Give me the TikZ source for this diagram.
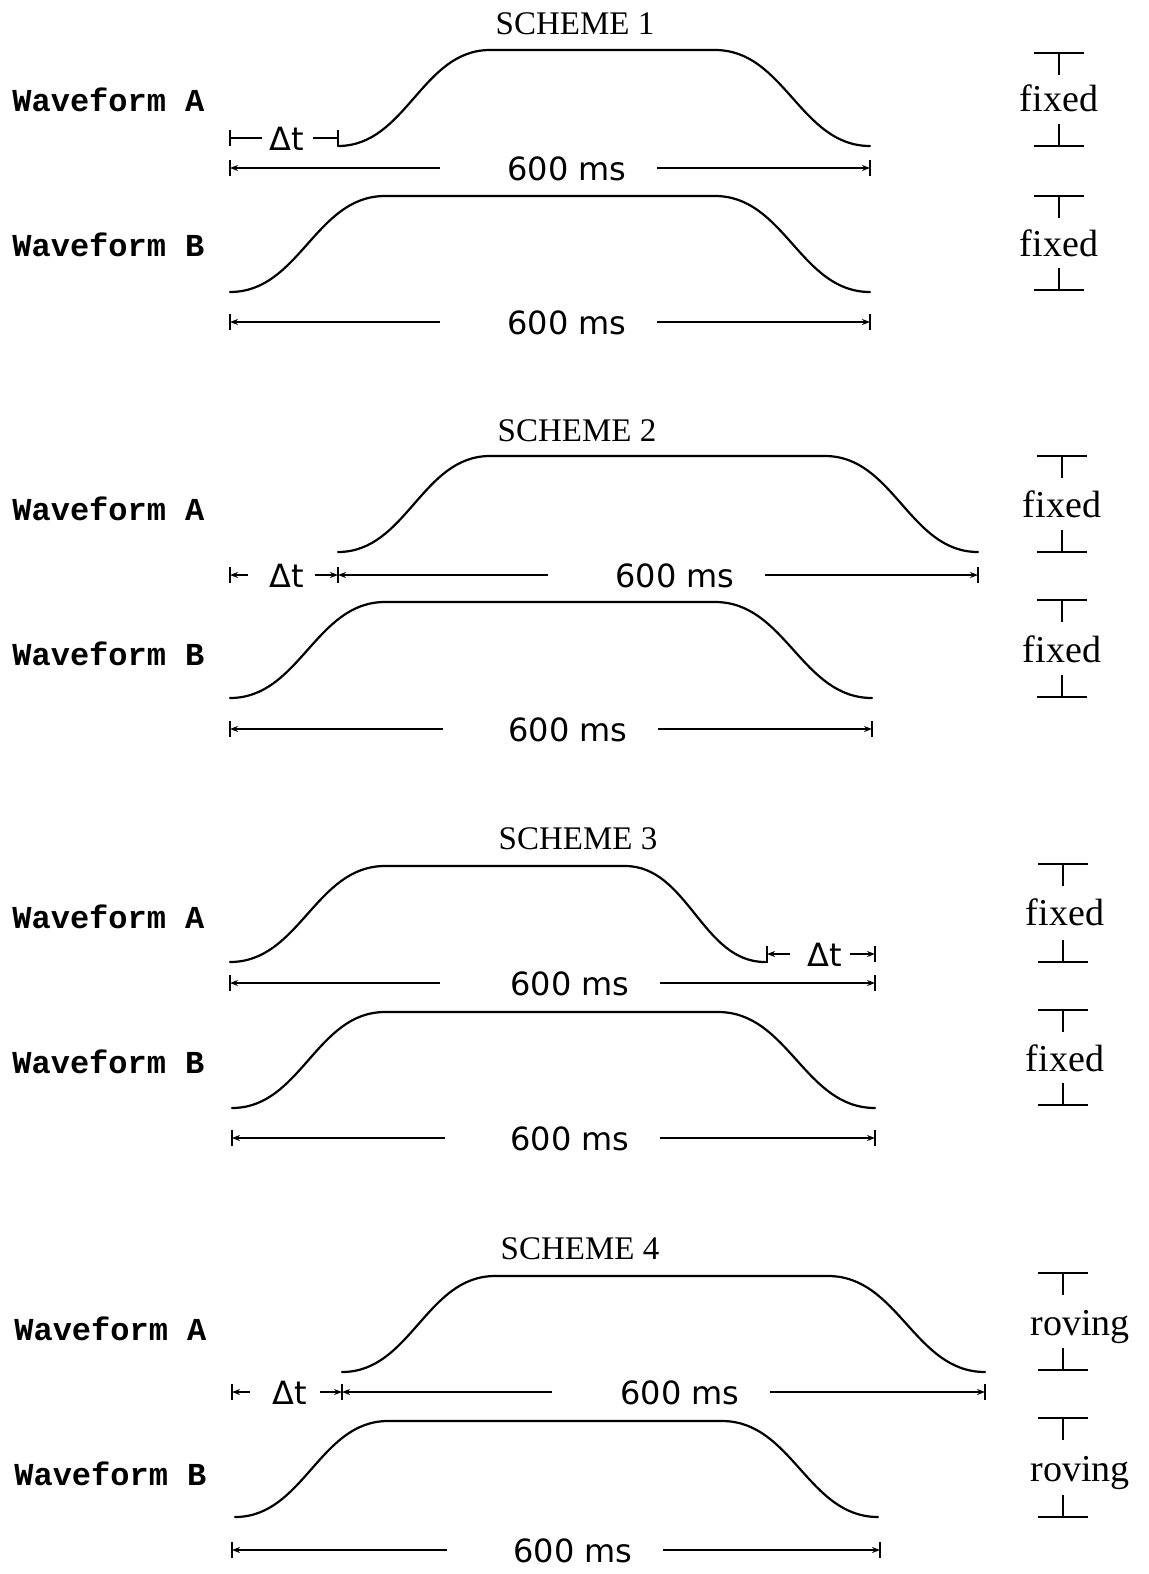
\documentclass[tikz,border=0pt]{standalone}
\usepackage{fontspec}
\setmainfont{Liberation Serif}
\newfontfamily\wavefont{Liberation Mono}
\newfontfamily\numfont{DejaVu Sans}
\usetikzlibrary{arrows.meta}
\tikzset{
  wave/.style={line width=1.1pt, line cap=round, line join=round},
  dim/.style={line width=0.8pt},
  dimarrow/.style={line width=0.8pt, -{Stealth[length=4pt,width=3pt]}},
  wlabel/.style={anchor=base west, inner sep=0pt, font=\wavefont\bfseries\fontsize{16}{18}\selectfont},
  title/.style={anchor=base, inner sep=0pt, font=\fontsize{16.5}{18}\selectfont},
  num/.style={anchor=base, inner sep=0pt, font=\numfont\fontsize{16}{18}\selectfont},
  side/.style={anchor=base, inner sep=0pt, font=\fontsize{19}{21}\selectfont},
}
% curve: name, x0, x1, x2, x3, ybot, ytop
\newcommand\wavecurve[7]{%
  \coordinate (#1s) at (#2,#6); \coordinate (#1e) at (#5,#6);
  \draw[wave] (#1s) .. controls ({#2+0.45*(#3-#2)},#6) and ({#2+0.55*(#3-#2)},#7) .. (#3,#7)
     -- (#4,#7) .. controls ({#4+0.45*(#5-#4)},#7) and ({#4+0.55*(#5-#4)},#6) .. (#1e);}
% dimension row: name, xl, xa, xtext, xb, xr, y, baseline
\newcommand\dimrow[8]{%
  \coordinate (#1l) at (#2,#7); \coordinate (#1a) at (#3,#7);
  \coordinate (#1b) at (#5,#7); \coordinate (#1r) at (#6,#7);
  \draw[dim] (#2,{#7-8}) -- (#2,{#7+8});
  \draw[dim] (#6,{#7-8}) -- (#6,{#7+8});
  \draw[dimarrow] (#1a) -- (#1l);
  \draw[dimarrow] (#1b) -- (#1r);
  \node[num] (#1t) at (#4,#8) {600 ms};}
% side bracket: name, xc, ytop, ybot, xtext, baseline, text
\newcommand\sidebr[7]{%
  \coordinate (#1top) at (#2,#3); \coordinate (#1bot) at (#2,#4);
  \draw[dim] ({#2-25},#3) -- ({#2+25},#3);
  \draw[dim] (#1top) -- (#2,{#3+22});
  \draw[dim] (#2,{#4-22}) -- (#1bot);
  \draw[dim] ({#2-25},#4) -- ({#2+25},#4);
  \node[side] (#1txt) at (#5,#6) {#7};}
\begin{document}
\begin{tikzpicture}[x=0.5pt,y=-0.5pt]
\useasboundingbox (0,0) rectangle (1148,1574);
\fill[white] (0,0) rectangle (1148,1574);

% ===== SCHEME 1 =====
\node[title] (t1) at (575,34) {SCHEME 1};
\node[wlabel] (a1) at (12,111) {Waveform A};
\node[wlabel] (b1) at (12,256) {Waveform B};
\wavecurve{w1a}{338}{490}{715}{870}{146}{50}
\draw[dim] (230,130) -- (230,146);
\draw[dim] (230,138) -- (262,138);
\node[num] (d1) at (287,150) {Δt};
\draw[dim] (313,138) -- (338,138);
\draw[dim] (338,130) -- (w1as);
\dimrow{r1a}{230}{440}{567}{657}{870}{168}{180}
\wavecurve{w1b}{230}{385}{715}{870}{292}{196}
\dimrow{r1b}{230}{440}{567}{657}{870}{322}{334}
\sidebr{f1a}{1059}{53}{146}{1059}{111}{fixed}
\sidebr{f1b}{1059}{196}{290}{1059}{256}{fixed}

% ===== SCHEME 2 =====
\node[title] (t2) at (577,441) {SCHEME 2};
\node[wlabel] (a2) at (12,520) {Waveform A};
\node[wlabel] (b2) at (12,665) {Waveform B};
\wavecurve{w2a}{338}{490}{825}{978}{552}{456}
\coordinate (dt2l) at (230,575);
\coordinate (dt2r) at (338,575);
\draw[dim] (230,567) -- (230,583);
\draw[dimarrow] (248,575) -- (dt2l);
\node[num] (d2) at (287,587) {Δt};
\draw[dimarrow] (315,575) -- (dt2r);
\dimrow{r2a}{338}{548}{675}{765}{978}{575}{587}
\wavecurve{w2b}{230}{385}{715}{872}{698}{602}
\dimrow{r2b}{230}{443}{568}{658}{872}{729}{741}
\sidebr{f2a}{1062}{456}{552}{1062}{517}{fixed}
\sidebr{f2b}{1062}{600}{697}{1062}{662}{fixed}

% ===== SCHEME 3 =====
\node[title] (t3) at (578,849) {SCHEME 3};
\node[wlabel] (a3) at (12,928) {Waveform A};
\node[wlabel] (b3) at (12,1073) {Waveform B};
\wavecurve{w3a}{230}{385}{625}{765}{962}{866}
\coordinate (dt3l) at (767,954);
\coordinate (dt3r) at (875,954);
\draw[dim] (767,946) -- (767,962) -- (w3ae);
\draw[dim] (875,946) -- (875,962);
\draw[dimarrow] (790,954) -- (dt3l);
\node[num] (d3) at (825,966) {Δt};
\draw[dimarrow] (850,954) -- (dt3r);
\dimrow{r3a}{230}{440}{570}{660}{875}{983}{995}
\wavecurve{w3b}{232}{385}{718}{875}{1108}{1012}
\dimrow{r3b}{232}{445}{570}{660}{875}{1138}{1150}
\sidebr{f3a}{1063}{864}{962}{1065}{925}{fixed}
\sidebr{f3b}{1063}{1010}{1105}{1065}{1071}{fixed}

% ===== SCHEME 4 =====
\node[title] (t4) at (580,1259) {SCHEME 4};
\node[wlabel] (a4) at (14,1340) {Waveform A};
\node[wlabel] (b4) at (14,1485) {Waveform B};
\wavecurve{w4a}{342}{495}{828}{985}{1372}{1276}
\coordinate (dt4l) at (232,1392);
\coordinate (dt4r) at (342,1392);
\draw[dim] (232,1384) -- (232,1400);
\draw[dimarrow] (250,1392) -- (dt4l);
\node[num] (d4) at (290,1404) {Δt};
\draw[dimarrow] (320,1392) -- (dt4r);
\dimrow{r4a}{342}{552}{680}{770}{985}{1392}{1404}
\wavecurve{w4b}{235}{388}{722}{878}{1517}{1421}
\dimrow{r4b}{232}{447}{573}{663}{880}{1550}{1562}
\sidebr{f4a}{1063}{1273}{1370}{1080}{1335}{roving}
\sidebr{f4b}{1063}{1418}{1517}{1080}{1481}{roving}
\end{tikzpicture}
\end{document}
